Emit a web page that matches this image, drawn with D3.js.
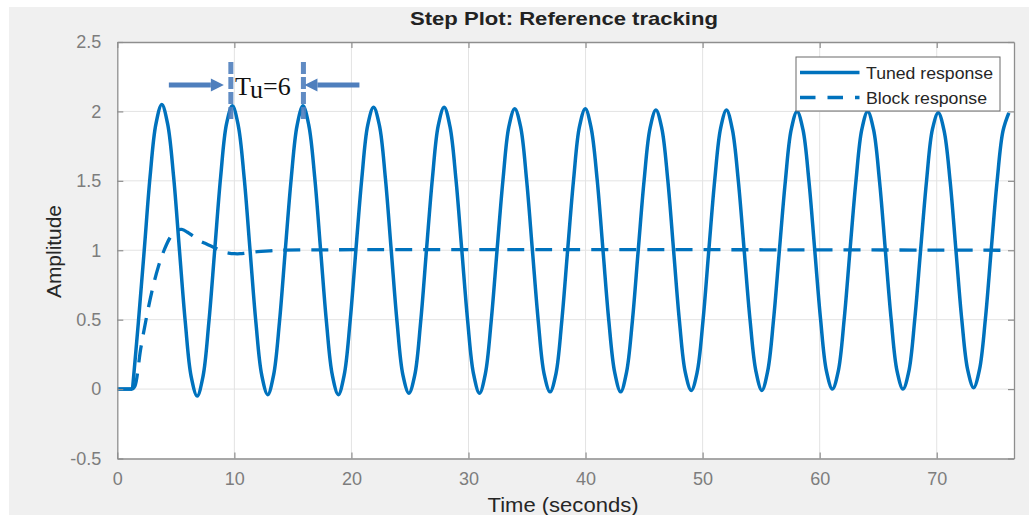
<!DOCTYPE html>
<html><head><meta charset="utf-8">
<script src="https://cdn.jsdelivr.net/npm/d3@7"></script>
<style>html,body{margin:0;padding:0;background:#fff;}svg{display:block;}</style>
</head><body>
<script>
// ---------- data ----------
const chartTitle = "Step Plot: Reference tracking";
const xLabel = "Time (seconds)";
const yLabel = "Amplitude";
const xTicks = [0, 10, 20, 30, 40, 50, 60, 70];
const yTicks = [-0.5, 0, 0.5, 1, 1.5, 2, 2.5];
const yTickLabels = ["-0.5", "0", "0.5", "1", "1.5", "2", "2.5"];
const xDomain = [0, 76.6];
const yDomain = [-0.5, 2.5];
const seriesNames = ["Tuned response", "Block response"];
const stepStartTime = 1.3;

const tunedTime = [
  0, 1.3, 1.8, 2.3, 2.8, 3.3,
  3.80, 4.30, 4.81, 5.31, 5.81, 6.31, 6.82, 7.32, 7.82, 8.32, 8.83, 9.33,
  9.83, 10.33, 10.84, 11.34, 11.84, 12.34, 12.85, 13.35, 13.85, 14.35, 14.86, 15.36,
  15.86, 16.36, 16.87, 17.37, 17.87, 18.37, 18.88, 19.38, 19.88, 20.38, 20.89, 21.39,
  21.89, 22.39, 22.90, 23.40, 23.90, 24.40, 24.91, 25.41, 25.91, 26.41, 26.92, 27.42,
  27.92, 28.42, 28.93, 29.43, 29.93, 30.43, 30.94, 31.44, 31.94, 32.44, 32.95, 33.45,
  33.95, 34.45, 34.96, 35.46, 35.96, 36.46, 36.97, 37.47, 37.97, 38.47, 38.98, 39.48,
  39.98, 40.48, 40.99, 41.49, 41.99, 42.49, 43.00, 43.50, 44.00, 44.50, 45.01, 45.51,
  46.01, 46.51, 47.02, 47.52, 48.02, 48.52, 49.03, 49.53, 50.03, 50.53, 51.04, 51.54,
  52.04, 52.54, 53.05, 53.55, 54.05, 54.55, 55.06, 55.56, 56.06, 56.56, 57.07, 57.57,
  58.07, 58.57, 59.08, 59.58, 60.08, 60.58, 61.09, 61.59, 62.09, 62.59, 63.10, 63.60,
  64.10, 64.60, 65.11, 65.61, 66.11, 66.61, 67.12, 67.62, 68.12, 68.62, 69.13, 69.63,
  70.13, 70.63, 71.14, 71.64, 72.14, 72.64, 73.15, 73.65, 74.15, 74.65, 75.16, 75.66,
  76.16
];
const tunedValue = [
  0, 0, 0.48, 1.00, 1.53, 1.91,
  2.05, 1.91, 1.53, 1.00, 0.48, 0.09, -0.05, 0.09, 0.48, 1.00, 1.53, 1.91,
  2.04, 1.90, 1.52, 1.00, 0.48, 0.10, -0.04, 0.10, 0.48, 1.00, 1.52, 1.90,
  2.04, 1.90, 1.52, 1.00, 0.48, 0.10, -0.04, 0.10, 0.48, 1.00, 1.52, 1.90,
  2.03, 1.90, 1.52, 1.00, 0.48, 0.10, -0.03, 0.10, 0.48, 1.00, 1.52, 1.90,
  2.03, 1.89, 1.51, 1.00, 0.49, 0.11, -0.03, 0.11, 0.49, 1.00, 1.51, 1.89,
  2.02, 1.89, 1.51, 1.00, 0.49, 0.11, -0.02, 0.11, 0.49, 1.00, 1.51, 1.89,
  2.02, 1.88, 1.51, 1.00, 0.49, 0.12, -0.02, 0.12, 0.49, 1.00, 1.51, 1.88,
  2.01, 1.88, 1.51, 1.00, 0.49, 0.12, -0.01, 0.12, 0.49, 1.00, 1.51, 1.88,
  2.01, 1.87, 1.50, 1.00, 0.50, 0.13, -0.01, 0.13, 0.50, 1.00, 1.50, 1.87,
  2.00, 1.87, 1.50, 1.00, 0.50, 0.13, 0.00, 0.13, 0.50, 1.00, 1.50, 1.87,
  2.00, 1.87, 1.50, 1.00, 0.50, 0.13, 0.00, 0.13, 0.50, 1.00, 1.50, 1.87,
  1.99, 1.86, 1.50, 1.00, 0.50, 0.14, 0.01, 0.14, 0.50, 1.00, 1.50, 1.86,
  1.99
];

const blockTime = [0, 1.3, 1.5, 2.0, 2.5, 3.0, 3.5, 4.0, 4.5, 5.0, 5.5, 6.0, 6.5, 7.0, 7.5, 8.0, 8.5, 9.0, 9.5, 10.0, 10.5, 11.0, 12.0, 13.0, 14.0, 76.0];
const blockValue = [0, 0, 0.02, 0.29, 0.52, 0.72, 0.88, 1.00, 1.09, 1.14, 1.15, 1.13, 1.10, 1.07, 1.05, 1.03, 1.01, 0.99, 0.98, 0.975, 0.975, 0.98, 0.99, 0.995, 1.00, 1.00];

// annotation: ultimate period marker
const periodLabel = { main: "T", sub: "u", rest: "=6" };
const periodMarks = [9.7, 15.9];

// ---------- layout ----------
const W = 1029, H = 515;
const plot = { left: 117.3, right: 1014, top: 42, bottom: 458.5 };
const lineColor = "#0072BD";
const annotColor = "#4F7FBD";

const svg = d3.select("body").append("svg").attr("width", W).attr("height", H);

svg.append("rect").attr("x", 9).attr("y", 7).attr("width", W - 9).attr("height", H - 7).attr("fill", "#f0f0f0");

const x = d3.scaleLinear().domain(xDomain).range([plot.left, plot.right]);
const y = d3.scaleLinear().domain(yDomain).range([plot.bottom, plot.top]);

svg.append("rect").attr("x", plot.left).attr("y", plot.top)
  .attr("width", plot.right - plot.left).attr("height", plot.bottom - plot.top).attr("fill", "#fff");

// grid
const grid = svg.append("g");
grid.selectAll("line.gx").data(xTicks.slice(1)).join("line")
  .attr("x1", d => x(d)).attr("x2", d => x(d)).attr("y1", plot.top).attr("y2", plot.bottom)
  .attr("stroke", "#e3e3e3").attr("stroke-width", 1);
grid.selectAll("line.gy").data(yTicks.slice(1, -1)).join("line")
  .attr("x1", plot.left).attr("x2", plot.right).attr("y1", d => y(d)).attr("y2", d => y(d))
  .attr("stroke", "#e3e3e3").attr("stroke-width", 1);

// clip
svg.append("clipPath").attr("id", "clip").append("rect")
  .attr("x", plot.left).attr("y", plot.top).attr("width", plot.right - plot.left).attr("height", plot.bottom - plot.top);

const tuned = tunedTime.map((t, i) => [t, tunedValue[i]]);
const block = blockTime.map((t, i) => [t, blockValue[i]]);
const lineSmooth = d3.line().x(d => x(d[0])).y(d => y(d[1])).curve(d3.curveCatmullRom.alpha(0.5));
const lineStraight = d3.line().x(d => x(d[0])).y(d => y(d[1]));
// flat part before the step is straight; the response after the step is smoothed
function pathOf(data) {
  const pre = data.filter(d => d[0] <= stepStartTime);
  const post = data.filter(d => d[0] >= stepStartTime);
  return lineStraight(pre) + lineSmooth(post);
}

const g = svg.append("g").attr("clip-path", "url(#clip)");
g.append("path").attr("d", pathOf(block)).attr("fill", "none")
  .attr("stroke", lineColor).attr("stroke-width", 3.3).attr("stroke-dasharray", "17,11");
g.append("path").attr("d", pathOf(tuned)).attr("fill", "none")
  .attr("stroke", lineColor).attr("stroke-width", 3.5).attr("stroke-linejoin", "round");

// axes (box with inward ticks)
const axisColor = "#8e8e8e";
const tickFont = "'Liberation Sans', Arial, Helvetica, sans-serif";
const axB = svg.append("g").attr("transform", `translate(0,${plot.bottom})`)
  .call(d3.axisBottom(x).tickValues(xTicks).tickSizeInner(-6).tickSizeOuter(0).tickPadding(14).tickFormat(d3.format("d")));
const axT = svg.append("g").attr("transform", `translate(0,${plot.top})`)
  .call(d3.axisTop(x).tickValues(xTicks).tickSizeInner(-6).tickSizeOuter(0).tickFormat(""));
const axL = svg.append("g").attr("transform", `translate(${plot.left},0)`)
  .call(d3.axisLeft(y).tickValues(yTicks).tickSizeInner(-6).tickSizeOuter(0).tickPadding(16).tickFormat((d, i) => yTickLabels[i]));
const axR = svg.append("g").attr("transform", `translate(${plot.right},0)`)
  .call(d3.axisRight(y).tickValues(yTicks).tickSizeInner(-6).tickSizeOuter(0).tickFormat(""));
[axB, axT, axL, axR].forEach(a => {
  a.select(".domain").attr("stroke", axisColor).attr("stroke-width", 1.3);
  a.selectAll(".tick line").attr("stroke", axisColor).attr("stroke-width", 1.2);
  a.selectAll("text").attr("fill", "#7d7d7d").style("font-family", tickFont).style("font-size", "18px");
});

// title & labels
svg.append("text").attr("x", 564).attr("y", 25).attr("text-anchor", "middle")
  .style("font-family", tickFont).style("font-size", "19px").style("font-weight", "bold").attr("fill", "#222")
  .attr("textLength", 308).attr("lengthAdjust", "spacingAndGlyphs").text(chartTitle);
svg.append("text").attr("x", 563).attr("y", 512).attr("text-anchor", "middle")
  .style("font-family", tickFont).style("font-size", "20px").attr("fill", "#262626")
  .attr("textLength", 151).attr("lengthAdjust", "spacingAndGlyphs").text(xLabel);
svg.append("text").attr("transform", "translate(61,251.5) rotate(-90)").attr("text-anchor", "middle")
  .style("font-family", tickFont).style("font-size", "20px").attr("fill", "#262626")
  .attr("textLength", 93).attr("lengthAdjust", "spacingAndGlyphs").text(yLabel);

// legend
const lg = svg.append("g");
lg.append("rect").attr("x", 796).attr("y", 57).attr("width", 204).attr("height", 54)
  .attr("fill", "#fff").attr("stroke", "#6a6a6a").attr("stroke-width", 1);
const legendRows = [
  { name: seriesNames[0], dash: null, y: 72.5, len: 127 },
  { name: seriesNames[1], dash: "15.5,12", y: 97.5, len: 121 }
];
legendRows.forEach(r => {
  lg.append("line").attr("x1", 800).attr("x2", 859.5).attr("y1", r.y).attr("y2", r.y)
    .attr("stroke", lineColor).attr("stroke-width", 3.3).attr("stroke-dasharray", r.dash);
  lg.append("text").attr("x", 866).attr("y", r.y + 6).style("font-family", tickFont).style("font-size", "16.5px")
    .attr("fill", "#262626").attr("textLength", r.len).attr("lengthAdjust", "spacingAndGlyphs").text(r.name);
});

// annotation T_u = 6
const an = svg.append("g");
periodMarks.forEach(t => {
  an.append("line").attr("x1", x(t)).attr("x2", x(t)).attr("y1", 62).attr("y2", 121)
    .attr("stroke", annotColor).attr("stroke-width", 5).attr("stroke-dasharray", "12,3").attr("opacity", 0.9);
});
function arrow(x0, x1, yy) {
  const dir = Math.sign(x1 - x0);
  const head = 13;
  an.append("line").attr("x1", x0).attr("x2", x1 - dir * head).attr("y1", yy).attr("y2", yy)
    .attr("stroke", annotColor).attr("stroke-width", 5);
  an.append("path").attr("d", `M${x1},${yy} L${x1 - dir * head},${yy - 6.5} L${x1 - dir * head},${yy + 6.5} Z`)
    .attr("fill", annotColor);
}
arrow(x(periodMarks[0]) - 62, x(periodMarks[0]) - 7, 85);
arrow(x(periodMarks[1]) + 56, x(periodMarks[1]) + 1, 85);
const tt = an.append("text").attr("x", 235).attr("y", 95)
  .style("font-family", "'Liberation Serif', 'Times New Roman', serif").style("font-size", "26px").attr("fill", "#111");
tt.append("tspan").text(periodLabel.main);
tt.append("tspan").attr("dy", 3).text(periodLabel.sub);
tt.append("tspan").attr("dy", -3).text(periodLabel.rest);
</script>
</body></html>
